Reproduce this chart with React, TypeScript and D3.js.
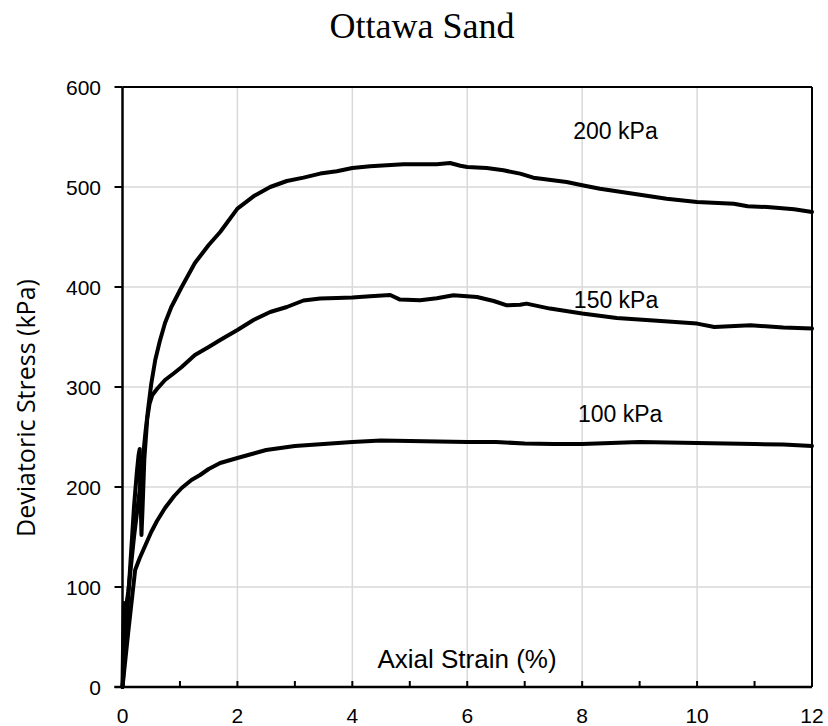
import React from "react";
import * as d3 from "d3";

const xTicks = [0, 2, 4, 6, 8, 10, 12];
const xMinorTicks = [0, 1, 2, 3, 4, 5, 6, 7, 8, 9, 10, 11, 12];
const yTicks = [0, 100, 200, 300, 400, 500, 600];

const series100: [number, number][] = [
  [0, 0], [0.1, 55], [0.22, 117], [0.3, 129], [0.4, 142], [0.5, 155], [0.6, 166], [0.74, 179],
  [0.9, 191], [1.03, 199], [1.2, 207], [1.35, 212], [1.5, 218], [1.7, 224], [2, 229], [2.25, 233],
  [2.5, 237], [2.75, 239], [3, 241], [3.25, 242], [3.5, 243], [4, 245], [4.5, 246.5], [5, 246],
  [5.5, 245.5], [6, 245], [6.5, 245], [7, 243.5], [7.5, 243], [8, 243], [8.5, 244], [9, 245],
  [9.5, 244.5], [10, 244], [10.5, 243.5], [11, 243], [11.5, 242.5], [12, 241],
];

const series150: [number, number][] = [
  [0, 0], [0.1, 90], [0.2, 180], [0.25, 215], [0.28, 232], [0.3, 238], [0.31, 200], [0.33, 152],
  [0.35, 180], [0.38, 228], [0.43, 268], [0.47, 283], [0.52, 292], [0.6, 298], [0.74, 307],
  [0.9, 314], [1.03, 320], [1.26, 332], [1.5, 340], [1.7, 347], [2, 357], [2.28, 367], [2.57, 375],
  [2.86, 380], [3.15, 386.5], [3.44, 388.4], [3.73, 389], [4, 389.4], [4.31, 390.7], [4.66, 392],
  [4.83, 387.4], [5.18, 386.7], [5.47, 388.7], [5.76, 391.7], [6.17, 390], [6.46, 386],
  [6.69, 381.7], [6.92, 382.3], [7.03, 383.4], [7.44, 378.4], [8, 373.4], [8.6, 369],
  [9.18, 366.7], [10, 363.4], [10.3, 360], [10.93, 361.7], [11.5, 359.4], [12, 358.4],
];

const series200: [number, number][] = [
  [0, 0], [0.01, 45], [0.025, 84], [0.04, 72], [0.1, 95], [0.2, 150], [0.3, 197], [0.4, 255],
  [0.45, 280], [0.5, 303], [0.57, 327], [0.65, 346], [0.74, 364], [0.85, 380], [1.03, 400],
  [1.26, 424], [1.5, 442], [1.7, 455], [2, 478.4], [2.28, 490.7], [2.57, 500], [2.86, 506],
  [3.15, 509.4], [3.44, 513.4], [3.73, 515.7], [4, 519], [4.31, 520.7], [4.6, 521.7],
  [4.89, 522.7], [5.18, 522.7], [5.47, 522.7], [5.7, 524], [5.88, 521.3], [6, 520], [6.34, 519],
  [6.63, 516.7], [6.92, 513.4], [7.15, 509.3], [7.73, 505], [8, 501.7], [8.31, 498.3],
  [8.89, 493.3], [9.47, 488.3], [10, 485], [10.64, 483.3], [10.88, 480.7], [11.22, 480],
  [11.69, 477.7], [12, 475],
];

const seriesLabels = ["100 kPa", "150 kPa", "200 kPa"];
const labelAnchors: [number, number][] = [[8.66, 265.3], [8.59, 378.7], [8.58, 547.7]];

export default function App() {
  const W = 828, H = 726;
  const x = d3.scaleLinear().domain([0, 12]).range([122.5, 812]);
  const y = d3.scaleLinear().domain([0, 600]).range([687, 87]);
  const line = d3.line<[number, number]>().x((d) => x(d[0])).y((d) => y(d[1]));
  const all = [series100, series150, series200];
  const sans = "'Liberation Sans', Arial, sans-serif";
  return (
    <svg width={W} height={H} style={{ position: "absolute", left: 0, top: 0, background: "#fff" }}>
      <rect width={W} height={H} fill="#fff" />
      <text x={422} y={38} textAnchor="middle" fontFamily="'Liberation Serif', 'Times New Roman', serif" fontSize={36}>
        Ottawa Sand
      </text>
      {xTicks.slice(1, -1).map((t) => (
        <line key={"gx" + t} x1={x(t)} x2={x(t)} y1={y(600)} y2={y(0)} stroke="#d9d9d9" strokeWidth={1.5} />
      ))}
      {yTicks.slice(1, -1).map((t) => (
        <line key={"gy" + t} x1={x(0)} x2={x(12)} y1={y(t)} y2={y(t)} stroke="#d9d9d9" strokeWidth={1.5} />
      ))}
      {all.map((s, i) => (
        <path key={"s" + i} d={line(s) || ""} fill="none" stroke="#000" strokeWidth={4} strokeLinejoin="round" strokeLinecap="round" />
      ))}
      <line x1={x(0)} x2={x(12)} y1={y(600)} y2={y(600)} stroke="#000" strokeWidth={2} />
      <line x1={x(12)} x2={x(12)} y1={y(600)} y2={y(0)} stroke="#000" strokeWidth={2} />
      <line x1={x(0)} x2={x(0)} y1={y(600)} y2={y(0)} stroke="#000" strokeWidth={2.5} />
      <line x1={x(0) - 8} x2={x(12)} y1={y(0)} y2={y(0)} stroke="#000" strokeWidth={2.5} />
      {yTicks.map((t) => (
        <g key={"yt" + t}>
          <line x1={x(0) - 8} x2={x(0)} y1={y(t)} y2={y(t)} stroke="#000" strokeWidth={2} />
          <text x={101} y={y(t) + 7.5} textAnchor="end" fontFamily={sans} fontSize={21}>
            {t}
          </text>
        </g>
      ))}
      {xMinorTicks.map((t) => (
        <line key={"xm" + t} x1={x(t)} x2={x(t)} y1={y(0)} y2={y(0) - 6} stroke="#000" strokeWidth={2} />
      ))}
      {xTicks.map((t) => (
        <text key={"xt" + t} x={x(t)} y={723} textAnchor="middle" fontFamily={sans} fontSize={21}>
          {t}
        </text>
      ))}
      <text x={467} y={668} textAnchor="middle" fontFamily={sans} fontSize={26}>
        Axial Strain (%)
      </text>
      <text
        transform={`translate(35, 408) rotate(-90)`}
        textAnchor="middle"
        fontFamily="'Open Sans', sans-serif"
        fontSize={25}
      >
        Deviatoric Stress (kPa)
      </text>
      {seriesLabels.map((l, i) => (
        <text key={l} x={x(labelAnchors[i][0])} y={y(labelAnchors[i][1])} textAnchor="middle" fontFamily={sans} fontSize={23}>
          {l}
        </text>
      ))}
    </svg>
  );
}
